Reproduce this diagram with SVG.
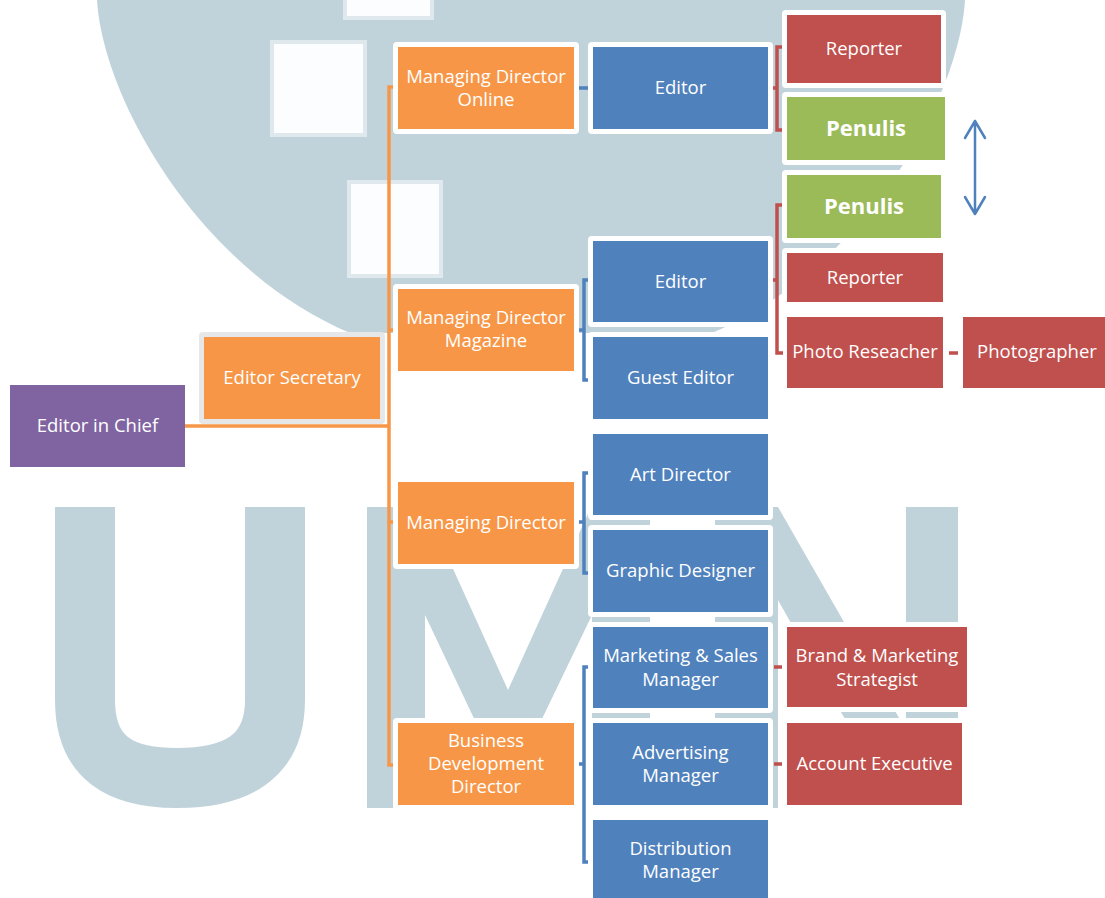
<svg xmlns="http://www.w3.org/2000/svg" width="1105" height="898" viewBox="0 0 1105 898">
<style>
.wm{fill:#c1d3da}
.win{fill:#fbfdfe;stroke:#dfe8ec;stroke-width:4}
.fr{fill:#ffffff}
.frg{fill:#e6e7e8}
.org{fill:#f79646}
.blu{fill:#4f81bd}
.red{fill:#c0504d}
.grn{fill:#9bbb59}
.pur{fill:#8064a2}
text{font-family:"Open Sans","Noto Sans","Liberation Sans",sans-serif;font-size:18.5px;fill:#ffffff;text-anchor:middle}
text.b{font-weight:bold;font-size:22px}
.co{fill:none;stroke:#f79646;stroke-width:3.5}
.cb{fill:none;stroke:#4f81bd;stroke-width:3.5}
.cr{fill:none;stroke:#c0504d;stroke-width:3.5}
.ar{fill:none;stroke:#4f81bd;stroke-width:2.5;stroke-linecap:round;stroke-linejoin:round}
</style>
<rect width="1105" height="898" fill="#ffffff"/>
<g id="watermark">
<path class="wm" d="M97,0 L965,0 C959,100 862,270 712,333 L350,333 C200,270 103,100 97,0 Z"/>
<rect class="win" x="272" y="42" width="93" height="93"/>
<rect class="win" x="349" y="182" width="92" height="94"/>
<rect class="win" x="345" y="-4" width="87" height="22"/>
<path fill="none" stroke="#c1d3da" stroke-width="60" d="M85,507 V700 C85,758 120,778 177,778 C235,778 275,758 275,700 V507"/>
<path class="wm" d="M367,808 L367,507 L425,507 L508,690 L591,507 L650,507 L650,808 L592,808 L592,615 L528,748 L488,748 L425,615 L425,808 Z"/>
<path class="wm" d="M715,808 L715,507 L778,507 L906,730 L906,507 L958,507 L958,808 L895,808 L778,600 L778,808 Z"/>
</g>
<g id="connectors">
<path class="co" d="M185,426 H389"/>
<path class="co" d="M396,87 H389 V765 H396"/>
<path class="co" d="M389,330 H395 M389,522 H395"/>
<path class="cb" d="M578,88 H593"/>
<path class="cb" d="M590,280 H584 V380 H590 M579,330 H584"/>
<path class="cb" d="M590,473 H584 V573 H590 M579,522 H584"/>
<path class="cb" d="M590,667 H584 V862 H590 M579,764 H584"/>
<path class="cr" d="M783,47 H777 V130 H783 M772,88 H777"/>
<path class="cr" d="M783,205 H777 V353 H783 M772,280 H777"/>
<path class="cr" d="M949,353 H958 M774,667 H782 M774,764 H782"/>
<path class="ar" d="M975,121 V214 M965,138 L975,121 L985,138 M965,197 L975,214 L985,197"/>
</g>
<g id="editor-in-chief"><rect class="pur" x="10" y="385" width="175" height="82"/><text x="97.5" y="432">Editor in Chief</text></g>
<g id="editor-secretary"><rect class="frg" x="199" y="332" width="186" height="92" rx="4"/><rect class="org" x="204" y="337" width="176" height="82"/><text x="292" y="384">Editor Secretary</text></g>
<g id="md-online"><rect class="fr" x="393" y="42" width="186" height="92" rx="4"/><rect class="org" x="398" y="47" width="176" height="82"/><text x="486" y="83">Managing Director</text><text x="486" y="106">Online</text></g>
<g id="editor-online"><rect class="fr" x="588" y="42" width="185" height="92" rx="4"/><rect class="blu" x="593" y="47" width="175" height="82"/><text x="680.5" y="94">Editor</text></g>
<g id="reporter-1"><rect class="fr" x="782" y="10" width="164" height="78" rx="4"/><rect class="red" x="787" y="15" width="154" height="68"/><text x="864" y="55">Reporter</text></g>
<g id="penulis-1"><rect class="fr" x="782" y="92" width="168" height="73" rx="4"/><rect class="grn" x="787" y="97" width="158" height="63"/><text class="b" x="866" y="136">Penulis</text></g>
<g id="penulis-2"><rect class="fr" x="782" y="170" width="164" height="73" rx="4"/><rect class="grn" x="787" y="175" width="154" height="63"/><text class="b" x="864" y="214">Penulis</text></g>
<g id="reporter-2"><rect class="fr" x="782" y="248" width="166" height="59" rx="4"/><rect class="red" x="787" y="253" width="156" height="49"/><text x="865" y="284">Reporter</text></g>
<g id="photo-researcher"><rect class="red" x="787" y="317" width="156" height="71"/><text x="865" y="358">Photo Reseacher</text></g>
<g id="photographer"><rect class="red" x="963" y="317" width="142" height="71"/><text x="1037" y="358">Photographer</text></g>
<g id="md-magazine"><rect class="fr" x="393" y="284" width="186" height="92" rx="4"/><rect class="org" x="398" y="289" width="176" height="82"/><text x="486" y="324">Managing Director</text><text x="486" y="347">Magazine</text></g>
<g id="editor-magazine"><rect class="fr" x="588" y="236" width="185" height="91" rx="4"/><rect class="blu" x="593" y="241" width="175" height="81"/><text x="680.5" y="288">Editor</text></g>
<g id="guest-editor"><rect class="fr" x="588" y="332" width="185" height="92" rx="4"/><rect class="blu" x="593" y="337" width="175" height="82"/><text x="680.5" y="384">Guest Editor</text></g>
<g id="md"><rect class="fr" x="393" y="477" width="186" height="92" rx="4"/><rect class="org" x="398" y="482" width="176" height="82"/><text x="486" y="529">Managing Director</text></g>
<g id="art-director"><rect class="fr" x="588" y="429" width="185" height="91" rx="4"/><rect class="blu" x="593" y="434" width="175" height="81"/><text x="680.5" y="481">Art Director</text></g>
<g id="graphic-designer"><rect class="fr" x="588" y="525" width="185" height="92" rx="4"/><rect class="blu" x="593" y="530" width="175" height="82"/><text x="680.5" y="577">Graphic Designer</text></g>
<g id="bdd"><rect class="fr" x="393" y="718" width="186" height="92" rx="4"/><rect class="org" x="398" y="723" width="176" height="82"/><text x="486" y="747">Business</text><text x="486" y="770">Development</text><text x="486" y="793">Director</text></g>
<g id="marketing-sales"><rect class="fr" x="588" y="622" width="185" height="91" rx="4"/><rect class="blu" x="593" y="627" width="175" height="81"/><text x="680.5" y="662">Marketing &amp; Sales</text><text x="680.5" y="686">Manager</text></g>
<g id="advertising"><rect class="fr" x="588" y="718" width="185" height="92" rx="4"/><rect class="blu" x="593" y="723" width="175" height="82"/><text x="680.5" y="759">Advertising</text><text x="680.5" y="782">Manager</text></g>
<g id="distribution"><rect class="fr" x="588" y="815" width="185" height="92" rx="4"/><rect class="blu" x="593" y="820" width="175" height="82"/><text x="680.5" y="855">Distribution</text><text x="680.5" y="878">Manager</text></g>
<g id="brand-strategist"><rect class="fr" x="782" y="622" width="190" height="90" rx="4"/><rect class="red" x="787" y="627" width="180" height="80"/><text x="877" y="662">Brand &amp; Marketing</text><text x="877" y="686">Strategist</text></g>
<g id="account-executive"><rect class="fr" x="782" y="718" width="185" height="92" rx="4"/><rect class="red" x="787" y="723" width="175" height="82"/><text x="874.5" y="770">Account Executive</text></g>
</svg>
